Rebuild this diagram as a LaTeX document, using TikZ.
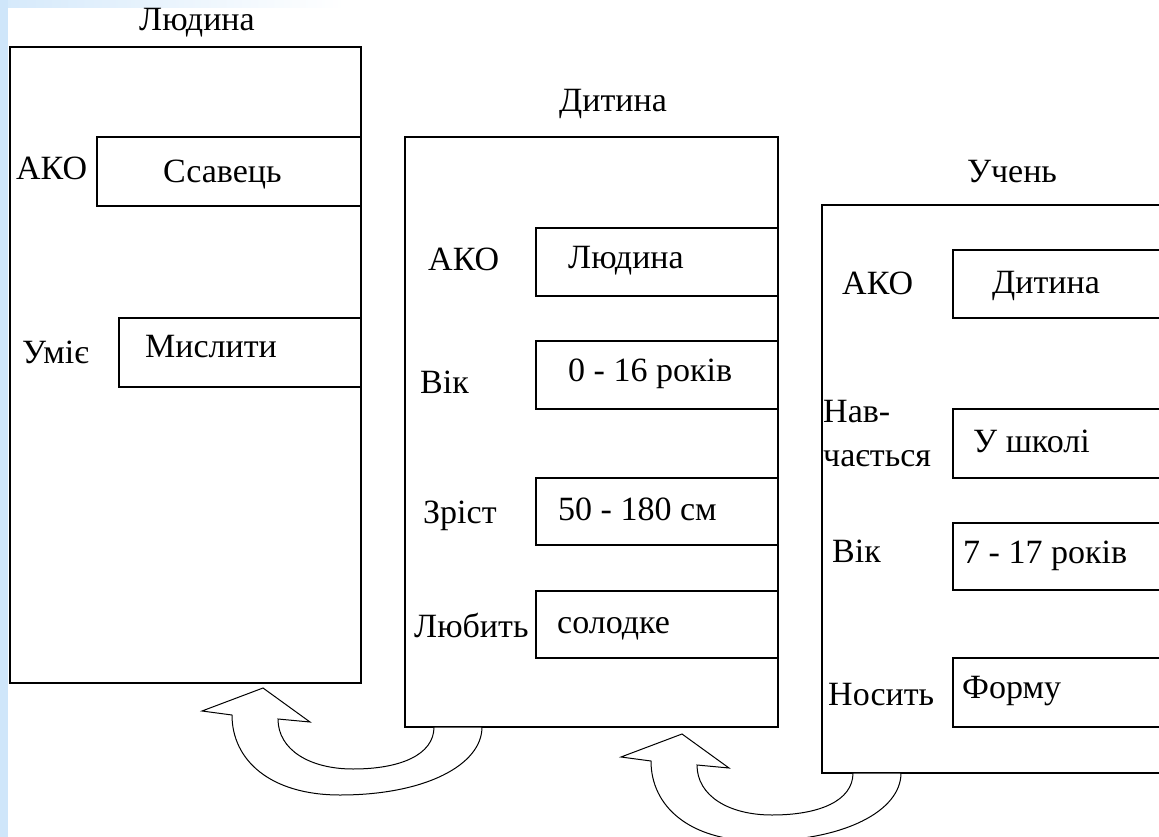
\documentclass[tikz,border=0pt]{standalone}
\usepackage{fontspec}
\setmainfont{Liberation Serif}
\usetikzlibrary{positioning}
\definecolor{stripblue}{RGB}{207,230,250}

\begin{document}
\begin{tikzpicture}[
    x=1pt, y=-1pt,
    frame/.style={draw, line width=1.4pt, inner sep=0pt, outer sep=0pt, anchor=north west},
    slot/.style={draw, line width=1.4pt, inner sep=0pt, outer sep=0pt, anchor=north west},
    title/.style={inner sep=0pt, anchor=base, font=\fontsize{34}{40}\selectfont},
    txt/.style={inner sep=0pt, anchor=base west, font=\fontsize{34}{40}\selectfont},
    turn/.style={draw, line width=1pt, fill=white, line join=miter},
    turnarrow/.pic={
        \draw[turn] (0,0) -- (48,0) .. controls (48,38) and (-9,68) .. (-94,68)
            .. controls (-164,68) and (-202,33) .. (-202,-12) -- (-232,-16)
            -- (-171,-39) -- (-124,-5) -- (-156,-8)
            .. controls (-156,23) and (-124,42) .. (-81,42)
            .. controls (-34,42) and (0,28) .. (0,0) -- cycle;
    }
]
    \useasboundingbox (0,0) rectangle (1159,837);
    \clip (0,0) rectangle (1159,837);

    % background strips
    \fill[stripblue] (0,0) rectangle (8,837);
    \shade[left color=stripblue!85, right color=white] (8,0) rectangle (345,8);

    % Людина
    \node[title] (lyud-t) at (197,31) {Людина};
    \node[frame, minimum width=351pt, minimum height=636pt] (lyud) at (10,47) {};
    \node[slot, minimum width=264pt, minimum height=69pt] (lyud-ako) at (97,137) {};
    \node[slot, minimum width=242pt, minimum height=69pt] (lyud-umie) at (119,318) {};
    \node[txt] (lyud-ako-l) at (16,180) {АКО};
    \node[txt] (lyud-ako-v) at (163,183) {Ссавець};
    \node[txt] (lyud-umie-l) at (22,363) {Уміє};
    \node[txt] (lyud-umie-v) at (145,357) {Мислити};

    % Дитина
    \node[title] (dyt-t) at (613,112) {Дитина};
    \node[frame, minimum width=373pt, minimum height=590pt] (dyt) at (405,137) {};
    \node[slot, minimum width=242pt, minimum height=68pt] (dyt-ako) at (536,228) {};
    \node[slot, minimum width=242pt, minimum height=68pt] (dyt-vik) at (536,341) {};
    \node[slot, minimum width=242pt, minimum height=67pt] (dyt-zrist) at (536,478) {};
    \node[slot, minimum width=242pt, minimum height=67pt] (dyt-lyub) at (536,591) {};
    \node[txt] (dyt-ako-l) at (428,270) {АКО};
    \node[txt] (dyt-ako-v) at (568,268) {Людина};
    \node[txt] (dyt-vik-l) at (420,393) {Вік};
    \node[txt] (dyt-vik-v) at (568,381) {0 - 16 років};
    \node[txt] (dyt-zrist-l) at (423,523) {Зріст};
    \node[txt] (dyt-zrist-v) at (558,520) {50 - 180 см};
    \node[txt] (dyt-lyub-l) at (414,637) {Любить};
    \node[txt] (dyt-lyub-v) at (557,633) {солодке};

    % Учень
    \node[title] (uch-t) at (1012,183) {Учень};
    \node[frame, minimum width=360pt, minimum height=568pt] (uch) at (822,205) {};
    \node[slot, minimum width=229pt, minimum height=68pt] (uch-ako) at (953,250) {};
    \node[slot, minimum width=229pt, minimum height=69pt] (uch-navch) at (953,409) {};
    \node[slot, minimum width=229pt, minimum height=67pt] (uch-vik) at (953,523) {};
    \node[slot, minimum width=229pt, minimum height=69pt] (uch-nos) at (953,658) {};
    \node[txt] (uch-ako-l) at (842,294) {АКО};
    \node[txt] (uch-ako-v) at (992,293) {Дитина};
    \node[txt, anchor=north west, align=left, font=\fontsize{34}{44}\selectfont] (uch-navch-l) at (823,400) {Нав-\\чається};
    \node[txt] (uch-navch-v) at (973,452) {У школі};
    \node[txt] (uch-vik-l) at (832,562) {Вік};
    \node[txt] (uch-vik-v) at (963,563) {7 - 17 років};
    \node[txt] (uch-nos-l) at (828,705) {Носить};
    \node[txt] (uch-nos-v) at (962,698) {Форму};

    % back arrows
    \coordinate[right=29pt of dyt.south west] (back1);
    \coordinate[right=31pt of uch.south west] (back2);
    \pic at (back1) {turnarrow};
    \pic at (back2) {turnarrow};
\end{tikzpicture}
\end{document}
